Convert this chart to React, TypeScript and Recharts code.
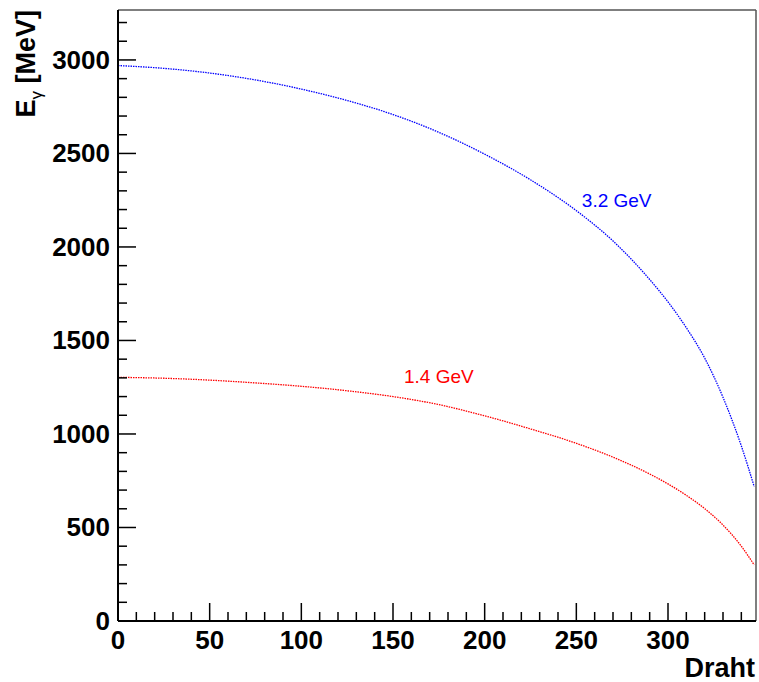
import { LineChart, Line, XAxis, YAxis, ReferenceLine, ReferenceDot } from 'recharts';

// wire number (Draht) vs photon energy in MeV
const wires = [0, 25, 50, 75, 100, 125, 150, 175, 200, 225, 250, 270, 290, 300, 310, 320, 330, 340, 347];
const energy32 = [2970, 2955, 2930, 2893, 2844, 2783, 2708, 2613, 2496, 2359, 2194, 2032, 1826, 1706, 1568, 1406, 1196, 936, 719];
const energy14 = [1303, 1298, 1288, 1273, 1255, 1231, 1200, 1157, 1097, 1027, 950, 876, 786, 733, 672, 601, 513, 400, 300];

const xTicks = Array.from({ length: 35 }, (_, i) => i * 10);
const yTicks = Array.from({ length: 33 }, (_, i) => i * 100);

const X_MAX = 348;
const Y_MAX = 3267;

const FONT = '"Liberation Sans", Arial, Helvetica, sans-serif';

const chartData = wires.map((w, i) => ({ wire: w, e32: energy32[i], e14: energy14[i] }));

// ROOT style: ticks point into the frame, labels only on majors
const XTick = (props: any) => {
  const { x, y, payload } = props;
  const v = payload.value;
  const major = v % 50 === 0;
  return (
    <g>
      <line x1={x} x2={x} y1={y} y2={y - (major ? 18 : 9)} stroke="#000" strokeWidth={1.5} />
      {major && (
        <text x={x} y={y + 28} textAnchor="middle" fontFamily={FONT} fontWeight="bold" fontSize={26} fill="#000">
          {v}
        </text>
      )}
    </g>
  );
};

const YTick = (props: any) => {
  const { x, y, payload } = props;
  const v = payload.value;
  const major = v % 500 === 0;
  return (
    <g>
      <line x1={x} x2={x + (major ? 18 : 9)} y1={y} y2={y} stroke="#000" strokeWidth={1.5} />
      {major && (
        <text x={x - 8} y={y + 9} textAnchor="end" fontFamily={FONT} fontWeight="bold" fontSize={26} fill="#000">
          {v}
        </text>
      )}
    </g>
  );
};

const seriesLabel = (text: string, color: string) => (p: any) => (
  <text x={p.cx} y={p.cy} fontFamily={FONT} fontSize={19} fill={color}>
    {text}
  </text>
);

export default function App() {
  return (
    <div style={{ position: 'fixed', left: 0, top: 0, width: 759, height: 682, background: '#fff' }}>
      <LineChart width={759} height={682} data={chartData} margin={{ top: 10, right: 3, left: 0, bottom: 0 }}>
        <XAxis
          dataKey="wire"
          type="number"
          domain={[0, X_MAX]}
          allowDataOverflow
          ticks={xTicks}
          interval={0}
          height={61}
          tickSize={0}
          tickMargin={0}
          tickLine={false}
          axisLine={{ stroke: '#000', strokeWidth: 2 }}
          tick={<XTick />}
          label={{
            content: () => (
              <text x={755} y={677} textAnchor="end" fontFamily={FONT} fontWeight="bold" fontSize={27} fill="#000">
                Draht
              </text>
            ),
          }}
        />
        <YAxis
          type="number"
          domain={[0, Y_MAX]}
          allowDataOverflow
          ticks={yTicks}
          interval={0}
          width={118}
          tickSize={0}
          tickMargin={0}
          tickLine={false}
          axisLine={{ stroke: '#000', strokeWidth: 2 }}
          tick={<YTick />}
          label={{
            content: () => (
              <text transform="translate(35,10) rotate(-90)" textAnchor="end" fontFamily={FONT} fill="#000">
                <tspan fontWeight="bold" fontSize={27}>E</tspan>
                <tspan fontSize={17} dy={7}>γ</tspan>
                <tspan fontWeight="bold" fontSize={27} dy={-7}> [MeV]</tspan>
              </text>
            ),
          }}
        />
        <ReferenceLine y={Y_MAX} stroke="#555" strokeWidth={1.5} />
        <ReferenceLine x={X_MAX} stroke="#555" strokeWidth={1.5} />
        <Line
          type="monotone"
          dataKey="e32"
          stroke="#0000ff"
          strokeWidth={1.3}
          strokeDasharray="1.5 1"
          dot={false}
          isAnimationActive={false}
        />
        <Line
          type="monotone"
          dataKey="e14"
          stroke="#ff0000"
          strokeWidth={1.3}
          strokeDasharray="1.5 1"
          dot={false}
          isAnimationActive={false}
        />
        <ReferenceDot x={253} y={2214} r={0} shape={seriesLabel('3.2 GeV', '#0000ff')} />
        <ReferenceDot x={156} y={1273} r={0} shape={seriesLabel('1.4 GeV', '#ff0000')} />
      </LineChart>
    </div>
  );
}
